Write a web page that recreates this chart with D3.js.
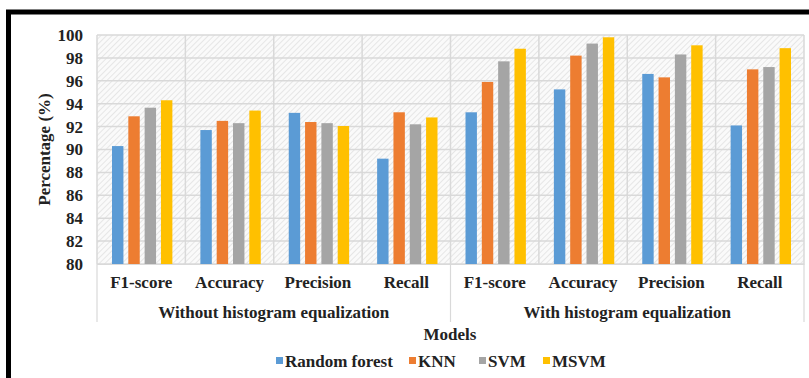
<!DOCTYPE html>
<html><head><meta charset="utf-8">
<script src="https://cdn.jsdelivr.net/npm/d3@7"></script>
<style>
html,body{margin:0;padding:0;background:#fff;}
svg{display:block;}
text{font-family:"Liberation Serif","Times New Roman",serif;font-weight:bold;fill:#222;}
</style></head>
<body>
<svg id="chart" width="809" height="378"></svg>
<script>
const groups = ["Without histogram equalization", "With histogram equalization"];
const metrics = ["F1-score", "Accuracy", "Precision", "Recall"];
const seriesNames = ["Random forest", "KNN", "SVM", "MSVM"];
const colors = ["#5b9bd5", "#ed7d31", "#a5a5a5", "#ffc000"];
const randomForest = [90.3, 91.7, 93.2, 89.2, 93.25, 95.25, 96.6, 92.1];
const knn          = [92.9, 92.5, 92.4, 93.25, 95.9, 98.2, 96.3, 97.0];
const svm          = [93.65, 92.3, 92.3, 92.2, 97.7, 99.25, 98.3, 97.2];
const msvm         = [94.3, 93.4, 92.05, 92.8, 98.8, 99.8, 99.1, 98.85];
const yTicks = [80, 82, 84, 86, 88, 90, 92, 94, 96, 98, 100];

const seriesValues = [randomForest, knn, svm, msvm];
const categories = [];
groups.forEach((g, gi) => metrics.forEach((m, mi) => categories.push({id: gi + "-" + mi, group: g, metric: m})));

const svg = d3.select("#chart");
const L = 97, R = 804, T = 35, B = 264;
const FS = "17px";

const x = d3.scaleBand().domain(categories.map(c => c.id)).range([L, R]).padding(0);
const xi = d3.scaleBand().domain(seriesNames).range([15, x.bandwidth() - 13]).paddingInner(0.3);
const y = d3.scaleLinear().domain([80, 100]).range([B, T]);

// hatch pattern
const defs = svg.append("defs");
const pat = defs.append("pattern").attr("id", "hatch").attr("patternUnits", "userSpaceOnUse")
  .attr("width", 4).attr("height", 4).attr("patternTransform", "rotate(45)");
pat.append("rect").attr("width", 4).attr("height", 4).attr("fill", "#fafafa");
pat.append("line").attr("x1", 0).attr("y1", 0).attr("x2", 0).attr("y2", 4)
  .attr("stroke", "#e0e0e0").attr("stroke-width", 1.5);

svg.append("rect").attr("x", L).attr("y", T).attr("width", R - L).attr("height", B - T).attr("fill", "url(#hatch)");

// grid
svg.append("g").selectAll("line").data(yTicks).join("line")
  .attr("x1", L).attr("x2", R).attr("y1", d => y(d)).attr("y2", d => y(d))
  .attr("stroke", "#d9d9d9").attr("stroke-width", 1.5);
const bounds = categories.map(c => x(c.id)).concat([R]);
svg.append("g").selectAll("line").data(bounds).join("line")
  .attr("x1", d => d).attr("x2", d => d).attr("y1", T).attr("y2", B)
  .attr("stroke", "#d9d9d9").attr("stroke-width", 1.5);

// bars
seriesNames.forEach((s, si) => {
  svg.append("g").selectAll("rect").data(seriesValues[si]).join("rect")
    .attr("x", (d, i) => x(categories[i].id) + xi(s))
    .attr("width", xi.bandwidth())
    .attr("y", d => y(d))
    .attr("height", d => y(80) - y(d))
    .attr("fill", colors[si]);
});

// y axis labels
const yAxis = d3.axisLeft(y).tickValues(yTicks).tickSize(0).tickPadding(14).tickFormat(d3.format("d"));
const ya = svg.append("g").attr("transform", `translate(${L},0)`).call(yAxis);
ya.select(".domain").remove();
ya.selectAll("text").style("font-size", FS).style("font-family", "Liberation Serif").style("font-weight", "bold").attr("fill", "#222");

// x axis category labels
const xAxis = d3.axisBottom(x).tickSize(0).tickPadding(12).tickFormat(id => categories.find(c => c.id === id).metric);
const xa = svg.append("g").attr("transform", `translate(0,${B})`).call(xAxis);
xa.select(".domain").attr("stroke", "#d9d9d9");
xa.selectAll("text").style("font-size", FS).style("font-family", "Liberation Serif").style("font-weight", "bold").attr("fill", "#222");

// group separators
const sepX = [L, x(categories[4].id), R];
svg.append("g").selectAll("line").data(sepX).join("line")
  .attr("x1", d => d).attr("x2", d => d).attr("y1", B).attr("y2", 322)
  .attr("stroke", "#d9d9d9").attr("stroke-width", 1.2);

// group labels
svg.append("g").selectAll("text").data(groups).join("text")
  .attr("x", (g, gi) => (x(categories[gi * 4].id) + x(categories[gi * 4 + 3].id) + x.bandwidth()) / 2)
  .attr("y", 318).attr("text-anchor", "middle").style("font-size", FS).text(d => d);

// axis titles
svg.append("text").attr("x", 450).attr("y", 340).attr("text-anchor", "middle").style("font-size", FS).text("Models");
svg.append("text").attr("transform", `translate(50,${(T + B) / 2}) rotate(-90)`).attr("text-anchor", "middle")
  .style("font-size", FS).text("Percentage (%)");

// legend
const legX = [276, 409, 479, 543];
const lg = svg.append("g").selectAll("g").data(seriesNames).join("g")
  .attr("transform", (d, i) => `translate(${legX[i]},361)`);
lg.append("rect").attr("x", 0).attr("y", -4).attr("width", 7).attr("height", 7).attr("fill", (d, i) => colors[i]);
lg.append("text").attr("x", 9).attr("y", 6).style("font-size", FS).text(d => d);

// frame
svg.append("line").attr("x1", 6).attr("x2", 809).attr("y1", 12).attr("y2", 12).attr("stroke", "#000").attr("stroke-width", 5);
svg.append("line").attr("x1", 8.5).attr("x2", 8.5).attr("y1", 10).attr("y2", 378).attr("stroke", "#000").attr("stroke-width", 5);
</script>
</body></html>
